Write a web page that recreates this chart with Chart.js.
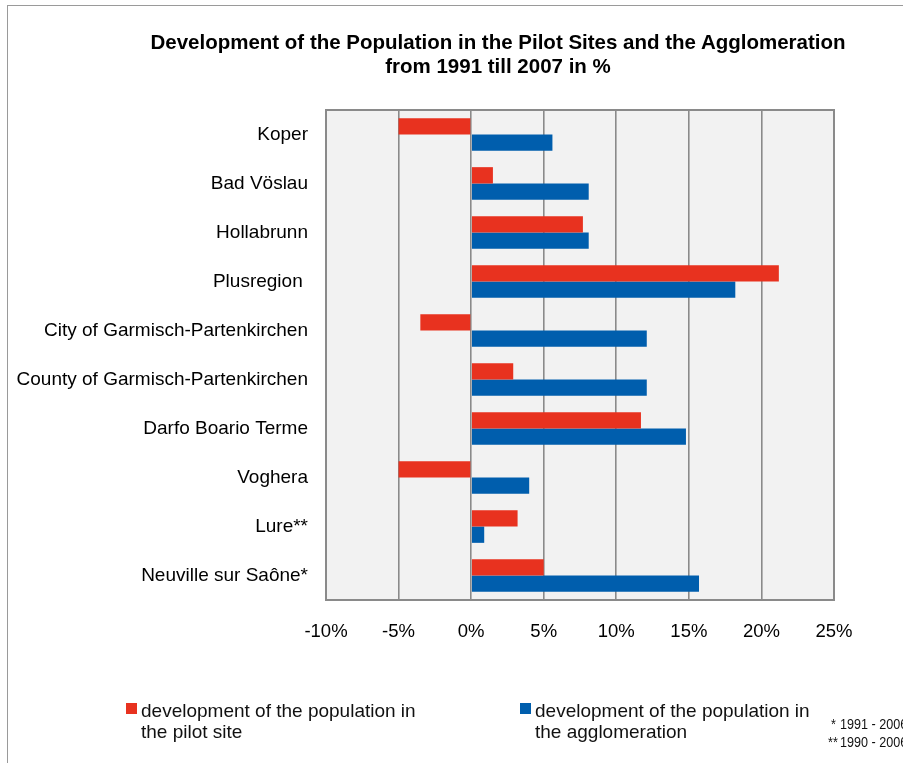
<!DOCTYPE html>
<html>
<head>
<meta charset="utf-8">
<script src="https://cdn.jsdelivr.net/npm/chart.js@4"></script>
<style>
  html, body { margin:0; padding:0; background:#fff; }
  body { width:903px; height:763px; overflow:hidden; position:relative; font-family:'Liberation Sans', Arial, sans-serif; }
  #frame { position:absolute; left:7px; top:5px; width:1000px; height:1000px; border:1.5px solid #9a9a9a; }
  #c { position:absolute; left:0; top:0; }
  #title { position:absolute; left:0; top:30px; width:996px; text-align:center; font-weight:bold; font-size:20.5px; line-height:24px; color:#000; }
  .lg { position:absolute; font-size:19px; line-height:21px; color:#111; white-space:nowrap; }
  .sw { position:absolute; width:11px; height:11px; }
  .fn { position:absolute; font-size:15px; line-height:18px; color:#111; white-space:pre; transform:scaleX(0.84); transform-origin:left center; }
</style>
</head>
<body>
<div id="frame"></div>
<canvas id="c" width="903" height="763"></canvas>
<div id="title"></div>
<div class="sw" style="left:126px; top:703px; background:#e8321f;"></div>
<div class="lg" style="left:141px; top:700px;">development of the population in<br>the pilot site</div>
<div class="sw" style="left:520px; top:703px; background:#005ead;"></div>
<div class="lg" style="left:535px; top:700px;">development of the population in<br>the agglomeration</div>
<div class="fn" style="left:831px; top:715px;">*</div>
<div class="fn" style="left:840px; top:715px;">1991 - 2006</div>
<div class="fn" style="left:828px; top:733px;">**</div>
<div class="fn" style="left:840px; top:733px;">1990 - 2006</div>
<script>
const categories = ['Koper', 'Bad Vöslau', 'Hollabrunn', 'Plusregion ', 'City of Garmisch-Partenkirchen', 'County of Garmisch-Partenkirchen', 'Darfo Boario Terme', 'Voghera', 'Lure**', 'Neuville sur Saône*'];
const pilotSite = [-5.0, 1.5, 7.7, 21.2, -3.5, 2.9, 11.7, -5.0, 3.2, 5.0];
const agglomeration = [5.6, 8.1, 8.1, 18.2, 12.1, 12.1, 14.8, 4.0, 0.9, 15.7];
const xTickValues = [-10, -5, 0, 5, 10, 15, 20, 25];
const seriesNames = ['development of the population in the pilot site', 'development of the population in the agglomeration'];
const titleLines = ['Development of the Population in the Pilot Sites and the Agglomeration', 'from 1991 till 2007 in %'];

document.getElementById('title').innerHTML = titleLines.join('<br>');

const FONT = "'Liberation Sans', Arial, sans-serif";

const areaPlugin = {
  id: 'area',
  beforeDraw(chart) {
    const a = chart.chartArea, ctx = chart.ctx;
    ctx.save();
    ctx.fillStyle = '#f2f2f2';
    ctx.fillRect(a.left, a.top, a.right - a.left, a.bottom - a.top);
    ctx.restore();
  },
  afterDraw(chart) {
    const a = chart.chartArea, ctx = chart.ctx;
    ctx.save();
    ctx.strokeStyle = '#8a8a8a';
    ctx.lineWidth = 2;
    ctx.strokeRect(a.left, a.top, a.right - a.left, a.bottom - a.top);
    ctx.restore();
  }
};

new Chart(document.getElementById('c'), {
  type: 'bar',
  data: {
    labels: categories,
    datasets: [
      { label: seriesNames[0], data: pilotSite, backgroundColor: '#e8321f', categoryPercentage: 0.667, barPercentage: 1.0 },
      { label: seriesNames[1], data: agglomeration, backgroundColor: '#005ead', categoryPercentage: 0.667, barPercentage: 1.0 }
    ]
  },
  options: {
    indexAxis: 'y',
    responsive: false,
    animation: false,
    devicePixelRatio: 1,
    layout: { padding: { left: 0, right: 69, top: 110, bottom: 0 } },
    plugins: {
      legend: { display: false },
      tooltip: { enabled: false },
      title: { display: false }
    },
    scales: {
      x: {
        type: 'linear',
        min: xTickValues[0],
        max: xTickValues[xTickValues.length - 1],
        afterBuildTicks: (s) => { s.ticks = xTickValues.map(v => ({ value: v })); },
        afterFit: (s) => { s.height = 163; },
        ticks: {
          color: '#000',
          font: { family: FONT, size: 18.5 },
          padding: 21,
          callback: (v) => v + '%'
        },
        grid: { color: '#8a8a8a', lineWidth: 1.6, drawTicks: false },
        border: { display: false }
      },
      y: {
        afterFit: (s) => { s.width = 326; },
        ticks: {
          color: '#000',
          font: { family: FONT, size: 19 },
          padding: 18,
          autoSkip: false
        },
        grid: { display: false, drawTicks: false },
        border: { display: false }
      }
    }
  },
  plugins: [areaPlugin]
});
</script>
</body>
</html>
